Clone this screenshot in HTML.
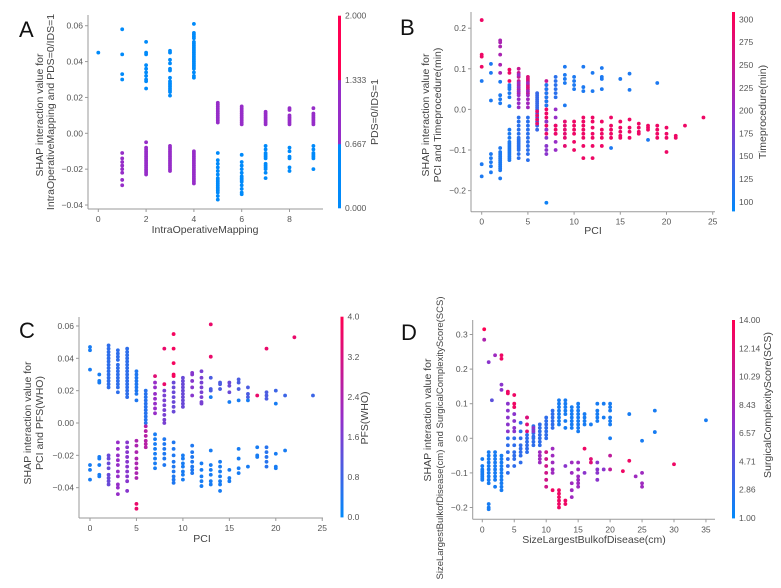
<!DOCTYPE html>
<html><head><meta charset="utf-8"><style>
html,body{margin:0;padding:0;background:#fff;}
svg{display:block;font-family:"Liberation Sans",sans-serif;}
</style></head><body>
<svg id="fig" width="781" height="588" viewBox="0 0 781 588"></svg>
<script>
// ---------- Panel A data (x, colour class 0..2, y values) ----------
const aGroupX = [0,1,1,2,2,3,3,4,4,5,5,6,6,7,7,8,8,9,9];
const aGroupC = [0,0,1,0,1,0,1,0,1,1,0,1,0,1,0,1,0,1,0];
const aGroupY = [
 [0.045],
 [0.058,0.044,0.033,0.030],
 [-0.011,-0.014,-0.016,-0.018,-0.020,-0.022,-0.026,-0.029],
 [0.051,0.045,0.044,0.038,0.036,0.034,0.032,0.030,0.029,0.025],
 [-0.005,-0.008,-0.009,-0.010,-0.011,-0.012,-0.013,-0.014,-0.015,-0.016,-0.017,-0.018,-0.019,-0.020,-0.021,-0.022,-0.023],
 [0.046,0.045,0.041,0.039,0.036,0.035,0.031,0.029,0.028,0.027,0.026,0.025,0.024,0.023,0.021],
 [-0.007,-0.008,-0.009,-0.010,-0.011,-0.012,-0.013,-0.014,-0.015,-0.016,-0.017,-0.018,-0.019,-0.020,-0.021],
 [0.061,0.056,0.055,0.054,0.053,0.051,0.050,0.049,0.048,0.047,0.046,0.045,0.044,0.043,0.042,0.041,0.040,0.039,0.038,0.037,0.036,0.034,0.032,0.031],
 [-0.010,-0.011,-0.012,-0.013,-0.014,-0.015,-0.016,-0.017,-0.018,-0.019,-0.020,-0.021,-0.022,-0.023,-0.024,-0.025,-0.026,-0.027,-0.028],
 [0.017,0.016,0.015,0.014,0.013,0.012,0.011,0.010,0.009,0.008,0.007,0.006],
 [-0.011,-0.015,-0.017,-0.019,-0.021,-0.023,-0.025,-0.026,-0.027,-0.028,-0.029,-0.030,-0.031,-0.032,-0.033,-0.035,-0.037],
 [0.015,0.014,0.013,0.012,0.011,0.010,0.009,0.008,0.007,0.006,0.005],
 [-0.012,-0.016,-0.018,-0.020,-0.022,-0.024,-0.025,-0.026,-0.027,-0.029,-0.031,-0.033,-0.034],
 [0.012,0.011,0.010,0.009,0.008,0.007,0.006,0.005],
 [-0.007,-0.009,-0.011,-0.012,-0.013,-0.014,-0.017,-0.018,-0.019,-0.020,-0.022,-0.025],
 [0.014,0.013,0.010,0.009,0.008,0.007,0.006,0.005],
 [-0.008,-0.010,-0.013,-0.014,-0.019,-0.021],
 [0.014,0.011,0.010,0.009,0.008,0.007,0.006,0.005],
 [-0.007,-0.009,-0.011,-0.012,-0.013,-0.014,-0.020]
];
const aXTicks = [0,2,4,6,8];
const aYTicks = [-0.04,-0.02,0.00,0.02,0.04,0.06];
const aYTickLabels = ["\u22120.04","\u22120.02","0.00","0.02","0.04","0.06"];
const aCbarLabels = ["0.000","0.667","1.333","2.000"];

// ---------- Panel B data (PCI, Timeprocedure minutes, y) ----------
const bGroupX = [0,0,1,1,2,2,2,3,3,3,4,4,4,5,5,5,6,6,7,7,7,7,7,8,8,8,9,9,10,10,11,11,12,12,13,13,14,14,15,15,16,16,17,18,18,19,19,20,21,22,24];
const bGroupC = [290,110,110,110,220,110,110,290,110,110,250,200,120,270,210,120,130,280,250,110,290,190,100,120,200,290,110,280,110,290,110,290,110,290,110,290,290,110,110,290,110,290,290,290,110,110,290,290,290,290,290];
const bGroupY = [
 [0.22,0.135,0.13,0.105],
 [0.07,-0.135,-0.165],
 [0.112,0.09,0.022],
 [-0.11,-0.12,-0.13,-0.14,-0.155],
 [0.17,0.165,0.155,0.135,0.11,0.09],
 [0.068,0.035,0.025,0.015],
 [-0.095,-0.105,-0.11,-0.115,-0.12,-0.125,-0.13,-0.135,-0.14,-0.145,-0.15,-0.17],
 [0.098,0.09,0.07],
 [0.06,0.055,0.05,0.04,0.03,0.008],
 [-0.05,-0.06,-0.07,-0.08,-0.085,-0.09,-0.095,-0.1,-0.105,-0.11,-0.115,-0.12,-0.125],
 [0.1,0.09,0.08,0.07,0.06,0.05,0.04],
 [0.085,0.065,0.055,0.045,0.035,0.025,0.015,0.005],
 [-0.02,-0.03,-0.04,-0.05,-0.06,-0.07,-0.075,-0.08,-0.085,-0.09,-0.095,-0.1,-0.11,-0.12],
 [0.08,0.075,0.07,0.06,0.055,0.05,0.04],
 [0.065,0.045,0.035,0.025,0.015,0.005],
 [-0.02,-0.03,-0.04,-0.05,-0.06,-0.07,-0.08,-0.09,-0.1,-0.11,-0.125],
 [0.04,0.035,0.03,0.025,0.02,0.015,0.01,0.005,0.0,-0.01,-0.02,-0.03,-0.04,-0.05],
 [-0.005,-0.015,-0.025,-0.035],
 [0.07,0.06,0.05,0.04,0.03,0.02,0.01],
 [0.06,0.05,0.04,0.03,0.02,0.01],
 [0.0,-0.01,-0.02,-0.03,-0.04,-0.05,-0.06],
 [-0.03,-0.05,-0.07,-0.09,-0.1,-0.11],
 [-0.23],
 [0.08,0.07,0.06,0.05,0.04,0.03],
 [0.0,-0.02,-0.04,-0.06,-0.08,-0.1],
 [-0.04,-0.05,-0.06],
 [0.105,0.085,0.075,0.065,0.01],
 [-0.03,-0.04,-0.05,-0.06,-0.07,-0.09],
 [0.08,0.07,0.06,0.05],
 [-0.03,-0.04,-0.05,-0.06,-0.08,-0.1],
 [0.105,0.055,0.045],
 [-0.02,-0.03,-0.04,-0.05,-0.06,-0.07,-0.09,-0.12],
 [0.09,0.045],
 [-0.02,-0.03,-0.045,-0.06,-0.07,-0.09,-0.12],
 [0.102,0.08,0.075,0.05],
 [-0.03,-0.05,-0.06,-0.07,-0.09],
 [-0.02,-0.04,-0.05,-0.06,-0.07],
 [-0.095],
 [0.075],
 [-0.03,-0.045,-0.055,-0.065,-0.07],
 [0.088,0.048],
 [-0.025,-0.045,-0.055,-0.07],
 [-0.035,-0.045,-0.055,-0.06],
 [-0.04,-0.045,-0.05],
 [-0.075],
 [0.065],
 [-0.04,-0.05,-0.06,-0.07],
 [-0.045,-0.06,-0.07,-0.105],
 [-0.065,-0.07],
 [-0.04],
 [-0.02]
];
const bXTicks = [0,5,10,15,20,25];
const bYTicks = [-0.2,-0.1,0.0,0.1,0.2];
const bYTickLabels = ["\u22120.2","\u22120.1","0.0","0.1","0.2"];
const bCbarTicks = [100,125,150,175,200,225,250,275,300];

// ---------- Panel C data (PCI, PFS(WHO), y) ----------
const cGroupX = [0,0,1,1,2,2,3,3,4,4,5,5,5,6,6,7,7,7,8,8,8,9,9,9,10,10,11,11,12,12,13,13,13,14,14,15,15,16,16,17,17,18,18,19,19,19,20,20,21,21,22,24];
const cGroupC = [0.3,0.3,0.3,0.3,0.6,1.4,0.6,2.0,0.6,1.8,0.4,2.4,3.6,0.5,2.6,2.0,3.4,0.3,1.6,3.6,0.4,3.8,1.4,0.4,1.4,0.3,1.8,0.4,1.6,0.3,3.6,1.0,0.3,1.0,0.3,1.4,0.3,1.0,0.3,1.0,0.3,3.6,0.3,3.6,1.0,0.5,0.8,0.3,0.8,0.3,3.6,0.8];
const cGroupY = [
 [0.047,0.045,0.033],
 [-0.026,-0.029,-0.035],
 [0.03,0.026,0.025],
 [-0.021,-0.022,-0.026,-0.032,-0.033],
 [0.048,0.046,0.044,0.042,0.04,0.038,0.036,0.034,0.032,0.03,0.028,0.026,0.024,0.022],
 [-0.02,-0.022,-0.025,-0.028,-0.032,-0.034,-0.036,-0.038],
 [0.045,0.043,0.041,0.039,0.036,0.034,0.032,0.03,0.028,0.026,0.024,0.022,0.019],
 [-0.012,-0.016,-0.02,-0.023,-0.026,-0.03,-0.033,-0.038,-0.04,-0.044],
 [0.046,0.044,0.042,0.04,0.038,0.036,0.034,0.032,0.03,0.028,0.026,0.024,0.022,0.02,0.018,0.016],
 [-0.012,-0.015,-0.018,-0.021,-0.024,-0.027,-0.03,-0.033,-0.036,-0.042],
 [0.032,0.03,0.028,0.026,0.024,0.022,0.02,0.018,0.014],
 [-0.011,-0.014,-0.018,-0.022,-0.025,-0.028,-0.031,-0.034],
 [-0.05,-0.053],
 [0.02,0.018,0.016,0.014,0.012,0.01,0.008,0.006,0.004,0.002,0.0],
 [-0.002,-0.005,-0.008,-0.011,-0.013,-0.015],
 [0.025,0.022,0.018,0.015,0.012,0.009,0.006],
 [0.029],
 [-0.007,-0.01,-0.013,-0.016,-0.019,-0.022,-0.025,-0.028],
 [0.02,0.017,0.014,0.011,0.008,0.005,0.002,0.0],
 [0.046,0.024],
 [-0.01,-0.013,-0.016,-0.019,-0.022,-0.026],
 [0.055,0.046,0.037,0.030,0.029],
 [0.025,0.022,0.019,0.016,0.013,0.01,0.007],
 [-0.012,-0.016,-0.02,-0.024,-0.027,-0.03,-0.033,-0.035,-0.037],
 [0.028,0.026,0.024,0.022,0.02,0.018,0.016,0.014,0.012,0.01],
 [-0.02,-0.022,-0.025,-0.027,-0.03,-0.032,-0.035],
 [0.031,0.03,0.026,0.022,0.017],
 [-0.014,-0.018,-0.021,-0.024,-0.027,-0.029,-0.031],
 [0.032,0.028,0.025,0.022,0.019,0.016,0.013,0.012],
 [-0.025,-0.029,-0.033,-0.036,-0.039],
 [0.061,0.041],
 [0.028,0.021,0.02],
 [0.016,-0.017,-0.026,-0.029,-0.032,-0.036,-0.038],
 [0.025,0.024,0.021],
 [-0.024,-0.027,-0.03,-0.033,-0.036,-0.038,-0.042],
 [0.025,0.023,0.019],
 [0.013,-0.029,-0.034,-0.036],
 [0.027,0.025,0.021],
 [0.014,-0.016,-0.022,-0.028,-0.031],
 [0.022,0.018,0.016],
 [0.014,-0.027],
 [0.017],
 [-0.015,-0.02,-0.021],
 [0.046],
 [0.019,0.017,0.015],
 [-0.015,-0.018,-0.021,-0.024,-0.027],
 [0.02],
 [0.012,-0.019,-0.027,-0.028],
 [0.017],
 [-0.017],
 [0.053],
 [0.017]
];
const cXTicks = [0,5,10,15,20,25];
const cYTicks = [-0.04,-0.02,0.00,0.02,0.04,0.06];
const cYTickLabels = ["\u22120.04","\u22120.02","0.00","0.02","0.04","0.06"];
const cCbarTicks = [0.0,0.8,1.6,2.4,3.2,4.0];

// ---------- Panel D data (size cm, SCS, y) ----------
const dGroupX = [0.3,0.3,0,1,1,1.5,2,2,3,3,3,4,4,4,5,5,5,6,7,7,7,8,8,9,9,10,10,11,11,11,12,12,13,13,13,14,14,15,15,16,16,16,17,17,18,18,19,19,20,20,22,23,23,24,25,25,27,30,35];
const dGroupC = [14,9,2,7,2,5,8,2,13,7,2,13,7,3,13,7,3,3,7,12,3,3,7,3,8,3,11,3,8,13,2,13,2,13,7,2,8,2,8,13,2,7,2,12,2,7,2,7,2,10,13,2,13,8,2,8,2,13,2];
const dGroupY = [
 [0.315],
 [0.285],
 [-0.06,-0.08,-0.09,-0.095,-0.1,-0.105,-0.11,-0.115,-0.12],
 [0.22],
 [-0.04,-0.05,-0.06,-0.07,-0.08,-0.09,-0.1,-0.11,-0.12,-0.13,-0.19,-0.2,-0.205],
 [0.11],
 [0.24],
 [-0.04,-0.05,-0.06,-0.07,-0.08,-0.09,-0.1,-0.11,-0.12,-0.14],
 [0.24,0.23],
 [0.155,0.14],
 [-0.05,-0.06,-0.07,-0.08,-0.09,-0.1,-0.11,-0.12,-0.13,-0.14,-0.15],
 [0.135,0.13],
 [0.1,0.08,0.06,0.04,0.02],
 [0.0,-0.02,-0.04,-0.06,-0.08,-0.1],
 [0.125,0.1,0.09],
 [0.07,0.05,0.03,0.02],
 [0.0,-0.02,-0.04,-0.05,-0.06,-0.08],
 [0.045,0.02,0.0,-0.02,-0.03,-0.04,-0.05,-0.07],
 [0.06],
 [0.06,0.04,0.02],
 [0.01,0.0,-0.01,-0.02,-0.03,-0.04],
 [0.035,0.025,0.015,0.005,0.0,-0.01,-0.02],
 [0.03,0.02],
 [0.04,0.03,0.02,0.01,0.0,-0.01,-0.02],
 [-0.04,-0.05,-0.06,-0.07],
 [0.06,0.05,0.04,0.03,0.02,0.01,0.0],
 [-0.04,-0.06,-0.08,-0.1,-0.12,-0.14],
 [0.08,0.07,0.06,0.05,0.04,0.03],
 [-0.03,-0.05,-0.07,-0.09,-0.1],
 [-0.15],
 [0.11,0.1,0.09,0.08,0.07,0.06,0.05,0.04],
 [-0.15,-0.16,-0.17,-0.18,-0.19,-0.2],
 [0.11,0.1,0.09,0.08,0.07,0.05,0.03],
 [-0.18,-0.19],
 [-0.08],
 [0.09,0.08,0.07,0.06,0.05,0.04,0.03],
 [-0.07,-0.1,-0.13,-0.15,-0.17],
 [0.1,0.09,0.08,0.07,0.06,0.05,0.04,0.03,0.02],
 [-0.07,-0.09,-0.11,-0.12,-0.13,-0.14],
 [-0.03],
 [0.07,0.06,0.05,0.04],
 [-0.1],
 [0.04],
 [-0.06,-0.07],
 [0.1,0.08,0.07,0.06,0.05],
 [-0.07,-0.09,-0.1,-0.12],
 [0.1,0.06],
 [-0.09],
 [0.1,0.09,0.08,0.06,0.05,0.04,0.0],
 [-0.05,-0.09],
 [-0.095],
 [0.07],
 [-0.065],
 [-0.11],
 [-0.007],
 [-0.1,-0.13,-0.14],
 [0.08,0.018],
 [-0.075],
 [0.052]
];
const dXTicks = [0,5,10,15,20,25,30,35];
const dYTicks = [-0.2,-0.1,0.0,0.1,0.2,0.3];
const dYTickLabels = ["\u22120.2","\u22120.1","0.0","0.1","0.2","0.3"];
const dCbarLabels = ["1.00","2.86","4.71","6.57","8.43","10.29","12.14","14.00"];

// ---------- rendering ----------
const NS = "http://www.w3.org/2000/svg";
const svg = document.getElementById('fig');
function mk(tag, attrs, parent){
  const e = document.createElementNS(NS, tag);
  for (const k in attrs) e.setAttribute(k, attrs[k]);
  (parent||svg).appendChild(e);
  return e;
}
const BLUE=[0,138,250], MID=[150,45,200], RED=[255,0,82];
function cmap(t){
  t=Math.max(0,Math.min(1,t));
  let a,b,u;
  if(t<0.5){a=BLUE;b=MID;u=t/0.5;}else{a=MID;b=RED;u=(t-0.5)/0.5;}
  return 'rgb('+[0,1,2].map(i=>Math.round(a[i]+(b[i]-a[i])*u)).join(',')+')';
}
const TXT='#555', SP='#9a9a9a';
const TF=8.5, LF=10.5;

function panel(P){
  const g = mk('g',{});
  
  
  const sx = v => P.x0 + (v - P.xmin) * P.xs;
  const sy = v => P.y0 - v * P.ys;
  const ls = mk('line',{x1:P.left,y1:P.top,x2:P.left,y2:P.bottom,stroke:SP,'stroke-width':1},g);
  
  
  const bs = mk('line',{x1:P.left,y1:P.bottom,x2:P.right,y2:P.bottom,stroke:SP,'stroke-width':1},g);
  
  
  P.xTicks.forEach(v=>{
    const x=sx(v);
    mk('line',{x1:x,y1:P.bottom,x2:x,y2:P.bottom+3,stroke:SP},g);
    const t=mk('text',{x:x,y:P.bottom+13,'font-size':TF,fill:TXT,'text-anchor':'middle'},g);
    t.textContent=String(v);
    
    
  });
  P.yTicks.forEach((v,i)=>{
    const y=sy(v);
    mk('line',{x1:P.left-3,y1:y,x2:P.left,y2:y,stroke:SP},g);
    const t=mk('text',{x:P.left-5,y:y+3,'font-size':TF,fill:TXT,'text-anchor':'end'},g);
    t.textContent=P.yLabels[i];
    
    
  });
  P.gx.forEach((gxv,gi)=>{
    const col = cmap((P.gc[gi]-P.cmin)/(P.cmax-P.cmin));
    P.gy[gi].forEach(yv=>{
      const c=mk('circle',{cx:sx(gxv),cy:sy(yv),r:1.9,fill:col},g);
      
      
    });
  });
  const cb = mk('g',{},g);
  
  
  if(P.discrete){
    const n=3, h=(P.cbBot-P.cbTop)/n;
    for(let i=0;i<n;i++){
      mk('rect',{x:P.cbX,y:P.cbBot-(i+1)*h,width:3,height:h+0.3,fill:cmap(i/(n-1))},cb);
    }
  } else {
    const N=60, h=(P.cbBot-P.cbTop)/N;
    for(let i=0;i<N;i++){
      mk('rect',{x:P.cbX,y:P.cbBot-(i+1)*h,width:3,height:h+0.4,fill:cmap((i+0.5)/N)},cb);
    }
  }
  P.cbTicks.forEach((v,i)=>{
    const y = P.cbBot - (v-P.cmin)/(P.cmax-P.cmin)*(P.cbBot-P.cbTop);
    const t=mk('text',{x:P.cbX+7,y:y+3,'font-size':TF,fill:TXT},cb);
    t.textContent=P.cbLabels[i];
    
    
  });
  const ct=mk('text',{x:0,y:0,'font-size':LF,fill:'#444','text-anchor':'middle',transform:`translate(${P.cbTitleX},${P.cbTitleY}) rotate(-90)`},cb);
  ct.textContent=P.cbTitle;
  
  
  const xl=mk('text',{x:P.xlX,y:P.xlY,'font-size':LF,fill:'#444','text-anchor':'middle'},g);
  xl.textContent=P.xLabel;
  
  
  P.yLines.forEach((ln,i)=>{
    const fs = (P.ylF && P.ylF[i]) || LF;
    const yl=mk('text',{x:0,y:0,'font-size':fs,fill:'#444','text-anchor':'middle',transform:`translate(${P.ylX[i]},${P.ylY[i]}) rotate(-90)`},g);
    yl.textContent=ln;
    
    
  });
  const lt=mk('text',{x:P.letX,y:P.letY,'font-size':22,fill:'#111'},g);
  lt.textContent=P.letter;
  
  
}

panel({name:'panel-a',letter:'A',letX:19,letY:37,left:88,top:15,bottom:209,right:323,
  x0:98.3,xmin:0,xs:23.9,y0:133.3,ys:1793,xTicks:aXTicks,yTicks:aYTicks,yLabels:aYTickLabels,
  gx:aGroupX,gc:aGroupC,gy:aGroupY,cmin:0,cmax:2,discrete:true,
  cbX:338,cbTop:15.7,cbBot:208,cbTicks:[0,0.667,1.333,2],cbLabels:aCbarLabels,
  cbTitle:'PDS=0/IDS=1',cbTitleX:378,cbTitleY:112,
  xLabel:'IntraOperativeMapping',xlX:205,xlY:233,
  yLines:['SHAP interaction value for','IntraOperativeMapping and PDS=0/IDS=1'],ylX:[43,54],ylY:[115,112]});

panel({name:'panel-b',letter:'B',letX:400,letY:35,left:471,top:12,bottom:211.7,right:715,
  x0:481.7,xmin:0,xs:9.24,y0:109.4,ys:406,xTicks:bXTicks,yTicks:bYTicks,yLabels:bYTickLabels,
  gx:bGroupX,gc:bGroupC,gy:bGroupY,cmin:90,cmax:308,discrete:false,
  cbX:732,cbTop:12,cbBot:211,cbTicks:bCbarTicks,cbLabels:bCbarTicks.map(String),
  cbTitle:'Timeprocedure(min)',cbTitleX:766,cbTitleY:112,
  xLabel:'PCI',xlX:593,xlY:234,
  yLines:['SHAP interaction value for','PCI and Timeprocedure(min)'],ylX:[429,441],ylY:[115,115]});

panel({name:'panel-c',letter:'C',letX:19,letY:338,left:79,top:317,bottom:518,right:323,
  x0:90,xmin:0,xs:9.29,y0:423,ys:1617,xTicks:cXTicks,yTicks:cYTicks,yLabels:cYTickLabels,
  gx:cGroupX,gc:cGroupC,gy:cGroupY,cmin:0,cmax:4,discrete:false,
  cbX:340.5,cbTop:316.7,cbBot:517,cbTicks:cCbarTicks,cbLabels:cCbarTicks.map(v=>v.toFixed(1)),
  cbTitle:'PFS(WHO)',cbTitleX:368,cbTitleY:418,
  xLabel:'PCI',xlX:202,xlY:542,
  yLines:['SHAP interaction value for','PCI and PFS(WHO)'],ylX:[31,43],ylY:[423,423]});

panel({name:'panel-d',letter:'D',letX:401,letY:340,left:472.7,top:320,bottom:519.3,right:715,
  x0:482.3,xmin:0,xs:6.39,y0:438.3,ys:346,xTicks:dXTicks,yTicks:dYTicks,yLabels:dYTickLabels,
  gx:dGroupX,gc:dGroupC,gy:dGroupY,cmin:1,cmax:14,discrete:false,
  cbX:732,cbTop:320,cbBot:518,cbTicks:[1,2.86,4.71,6.57,8.43,10.29,12.14,14],cbLabels:dCbarLabels,
  cbTitle:'SurgicalComplexityScore(SCS)',cbTitleX:771,cbTitleY:405,
  xLabel:'SizeLargestBulkofDisease(cm)',xlX:594,xlY:543,
  yLines:['SHAP interaction value for','SizeLargestBulkofDisease(cm) and SurgicalComplexityScore(SCS)'],ylX:[431,443],ylY:[420,438],ylF:[10.5,9.5]});
</script>
</body></html>
